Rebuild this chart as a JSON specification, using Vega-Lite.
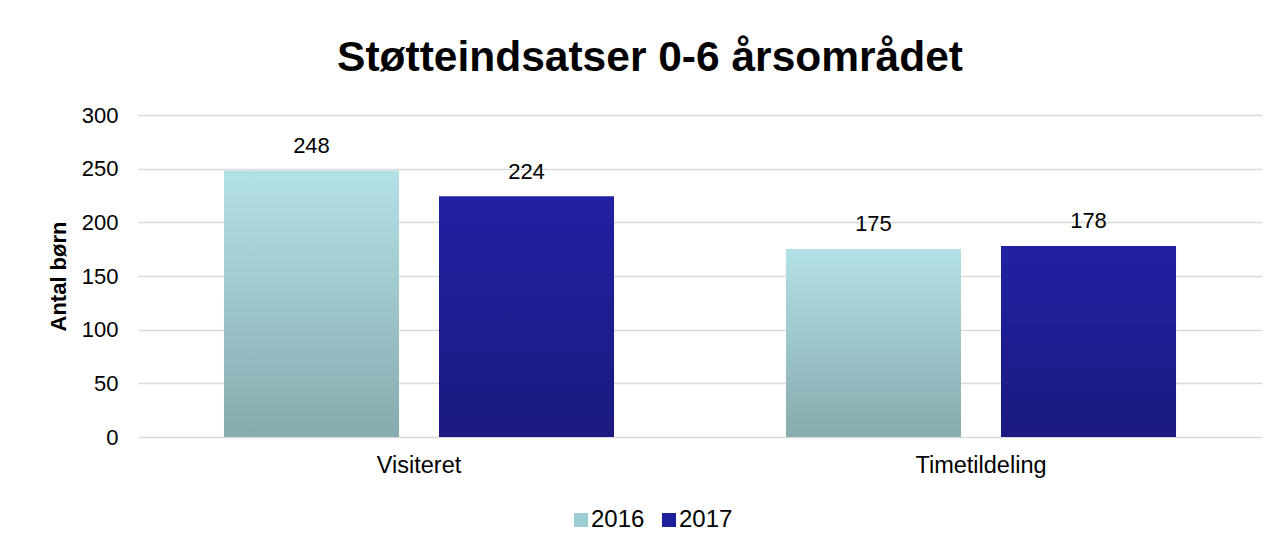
{
  "$schema": "https://vega.github.io/schema/vega-lite/v6.json",
  "width": 1124,
  "height": 322,
  "autosize": {"type": "none"},
  "padding": {"left": 138, "top": 115, "right": 16, "bottom": 110},
  "background": "white",
  "config": {
    "font": "Liberation Sans",
    "view": {"stroke": null}
  },
  "title": {
    "text": "Støtteindsatser 0-6 årsområdet",
    "fontSize": 42.5,
    "fontWeight": "bold",
    "color": "#000000",
    "anchor": "middle",
    "frame": "group",
    "dx": -50,
    "offset": 25
  },
  "data": {
    "values": [
      {"category": "Visiteret", "year": "2016", "value": 248},
      {"category": "Visiteret", "year": "2017", "value": 224},
      {"category": "Timetildeling", "year": "2016", "value": 175},
      {"category": "Timetildeling", "year": "2017", "value": 178}
    ]
  },
  "encoding": {
    "x": {
      "field": "category",
      "type": "nominal",
      "sort": ["Visiteret", "Timetildeling"],
      "scale": {"paddingInner": 0.306, "paddingOuter": 0.153},
      "axis": {
        "title": null,
        "labelAngle": 0,
        "labelFontSize": 23.5,
        "labelColor": "#000000",
        "labelPadding": 16,
        "ticks": false,
        "domain": false
      }
    },
    "xOffset": {
      "field": "year",
      "type": "nominal",
      "scale": {"paddingInner": 0.186, "paddingOuter": 0}
    },
    "y": {
      "field": "value",
      "type": "quantitative",
      "scale": {"domain": [0, 300]},
      "axis": {
        "title": "Antal børn",
        "titleFontSize": 22,
        "titleFontWeight": "bold",
        "titleColor": "#000000",
        "titlePadding": 11,
        "values": [0, 50, 100, 150, 200, 250, 300],
        "labelFontSize": 22,
        "labelColor": "#000000",
        "labelPadding": 20,
        "ticks": false,
        "domain": false,
        "gridColor": "#d9d9d9",
        "gridWidth": 1.5
      }
    }
  },
  "layer": [
    {
      "mark": {"type": "bar"},
      "encoding": {
        "color": {
          "field": "year",
          "type": "nominal",
          "scale": {"domain": ["2016", "2017"], "range": ["#9ccdd1", "#1f1f9c"]},
          "legend": {
            "title": null,
            "orient": "none",
            "direction": "horizontal",
            "legendX": 431,
            "legendY": 393,
            "symbolType": "square",
            "symbolSize": 196,
            "symbolStrokeWidth": 0,
            "labelFontSize": 24,
            "labelColor": "#000000",
            "labelOffset": -2,
            "columnPadding": 12
          }
        }
      }
    },
    {
      "mark": {"type": "bar"},
      "encoding": {
        "color": {
          "condition": {
            "test": "datum.year === '2016'",
            "value": {
              "gradient": "linear",
              "x1": 0, "y1": 0, "x2": 0, "y2": 1,
              "stops": [
                {"offset": 0, "color": "#b2e1e5"},
                {"offset": 1, "color": "#87abaf"}
              ]
            }
          },
          "value": {
            "gradient": "linear",
            "x1": 0, "y1": 0, "x2": 0, "y2": 1,
            "stops": [
              {"offset": 0, "color": "#2121a3"},
              {"offset": 1, "color": "#1a1a80"}
            ]
          }
        }
      }
    },
    {
      "mark": {"type": "text", "baseline": "bottom", "dy": -13, "fontSize": 22, "color": "#000000"},
      "encoding": {
        "text": {"field": "value", "type": "quantitative"}
      }
    }
  ]
}
